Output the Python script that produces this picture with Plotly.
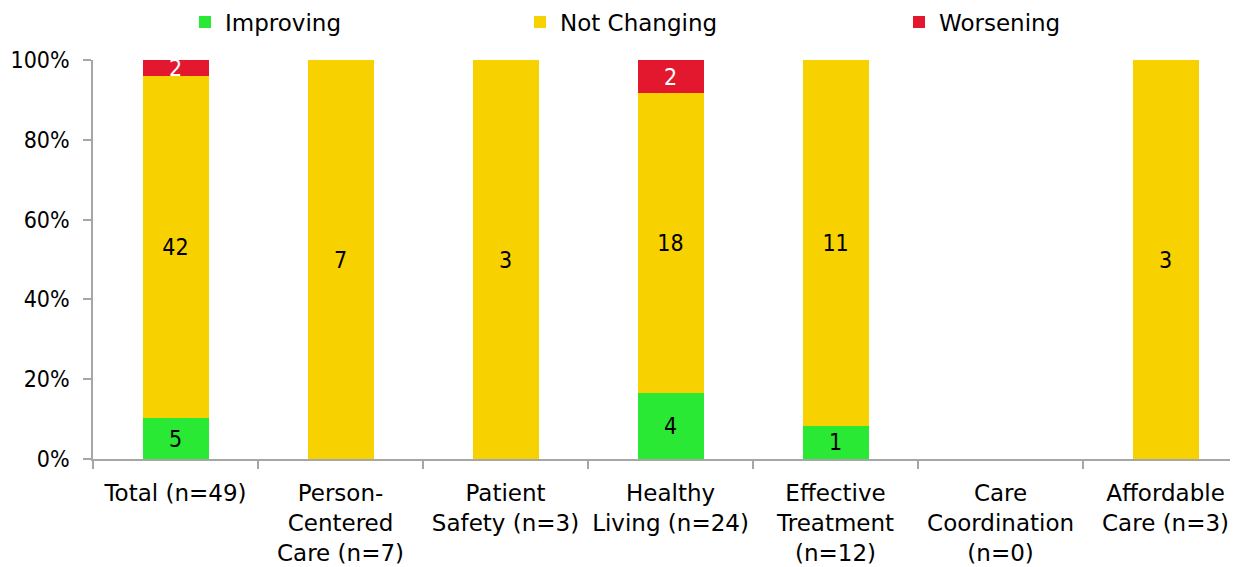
import plotly.graph_objects as go

categories = ["Total (n=49)", "Person-<br>Centered<br>Care (n=7)", "Patient<br>Safety (n=3)",
              "Healthy<br>Living (n=24)", "Effective<br>Treatment<br>(n=12)",
              "Care<br>Coordination<br>(n=0)", "Affordable<br>Care (n=3)"]
improving = [5, 0, 0, 4, 1, 0, 0]
not_changing = [42, 7, 3, 18, 11, 0, 3]
worsening = [2, 0, 0, 2, 0, 0, 0]

y_ticks = [0, 20, 40, 60, 80, 100]
y_labels = ["0%", "20%", "40%", "60%", "80%", "100%"]

FONT = "DejaVu Sans"
FONT_C = "DejaVu Sans Condensed"
FS = 23

def labels(vals):
    return [str(v) if v else "" for v in vals]

series = [
    ("Improving", improving, "#29E934", "black", "legend"),
    ("Not Changing", not_changing, "#F8D200", "black", "legend2"),
    ("Worsening", worsening, "#E3182F", "white", "legend3"),
]

fig = go.Figure()
for name, vals, color, tcolor, lg in series:
    fig.add_trace(go.Bar(
        x=categories, y=vals, name=name, marker=dict(color=color, line=dict(width=0)),
        width=0.4, text=labels(vals), textposition="inside", insidetextanchor="middle",
        constraintext="none", textangle=0,
        textfont=dict(family=FONT_C, size=FS, color=tcolor),
        legend=lg, hoverinfo="skip",
    ))

W, H = 1230, 559
legend_common = dict(orientation="h", yanchor="middle", xanchor="left", y=1 - 14 / H,
                     xref="container", yref="container",
                     font=dict(family=FONT, size=FS, color="black"),
                     bgcolor="rgba(0,0,0,0)", itemwidth=30)
fig.update_layout(
    width=W, height=H, showlegend=True,
    barmode="stack", barnorm="percent",
    plot_bgcolor="white", paper_bgcolor="white",
    margin=dict(l=85, r=0, t=52, b=108, autoexpand=False),
    font=dict(family=FONT, size=FS, color="black"),
    legend=dict(legend_common, x=177 / W),
    legend2=dict(legend_common, x=512 / W),
    legend3=dict(legend_common, x=891 / W),
    xaxis=dict(type="category", range=[-0.5, 6.439],
               tickangle=0, automargin=False, ticklabelstandoff=13,
               showline=True, linecolor="#A6A6A6", linewidth=1.5,
               ticks="outside", tickson="boundaries", ticklen=8, tickcolor="#A6A6A6",
               tickwidth=1.5, showgrid=False, zeroline=False,
               tickfont=dict(family=FONT, size=FS, color="black")),
    yaxis=dict(range=[0, 100], tickmode="array", tickvals=y_ticks, ticktext=y_labels,
               automargin=False, ticklabelstandoff=9,
               showline=True, linecolor="#A6A6A6", linewidth=1.5,
               ticks="outside", ticklen=8, tickcolor="#A6A6A6", tickwidth=1.5,
               showgrid=False, zeroline=False,
               tickfont=dict(family=FONT_C, size=FS, color="black")),
)

fig.write_html("out.html")
